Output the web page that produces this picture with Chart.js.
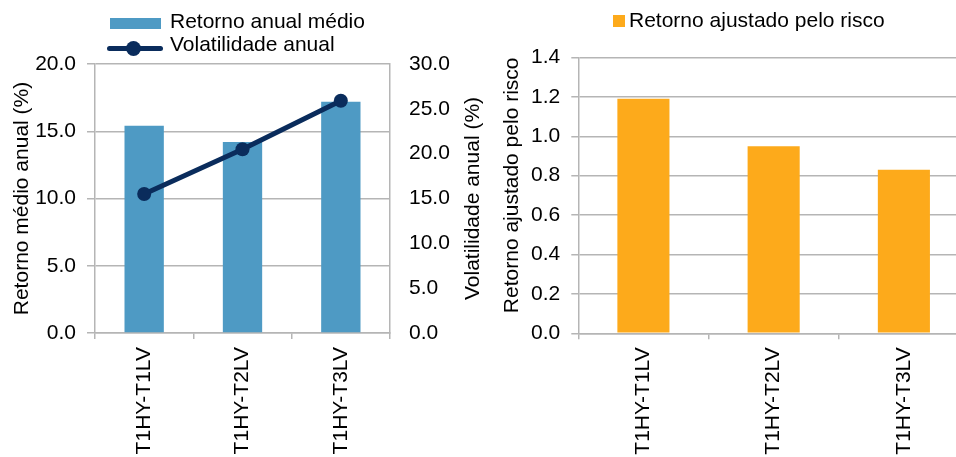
<!DOCTYPE html>
<html>
<head>
<meta charset="utf-8">
<script src="https://cdn.jsdelivr.net/npm/chart.js@4"></script>
<style>
  html, body { margin: 0; padding: 0; width: 956px; height: 457px; overflow: hidden; background: #fff; }
  body { position: relative; font-family: 'Liberation Sans', Arial, sans-serif; }
  canvas { position: absolute; top: 0; }
  #cLeft { left: 0; }
  #cRight { left: 490px; }
  .lg { position: absolute; font-size: 21px; line-height: 21px; color: #000; white-space: nowrap; }
  .sw { position: absolute; }
</style>
</head>
<body>
<canvas id="cLeft" width="490" height="457"></canvas>
<canvas id="cRight" width="480" height="457"></canvas>

<!-- legend, left chart -->
<div class="sw" style="left:110px;top:18px;width:51px;height:11px;background:#4E9AC4"></div>
<div class="lg" style="left:170px;top:10px">Retorno anual médio</div>
<div class="sw" style="left:107px;top:46px;width:56px;height:5px;border-radius:3px;background:#0A2C5C"></div>
<div class="sw" style="left:126px;top:41px;width:15px;height:15px;border-radius:50%;background:#0A2C5C"></div>
<div class="lg" style="left:170px;top:33px">Volatilidade anual</div>

<!-- legend, right chart -->
<div class="sw" style="left:613px;top:15px;width:12px;height:12px;background:#FDAA1B"></div>
<div class="lg" style="left:629px;top:9px">Retorno ajustado pelo risco</div>

<script>
// Portfolio labels
const categories = ['T1HY-T1LV', 'T1HY-T2LV', 'T1HY-T3LV'];
// Average annual return (%), left axis
const retornoMedio = [15.4, 14.2, 17.2];
// Annual volatility (%), right axis
const volatilidade = [15.5, 20.5, 25.9];
// Risk-adjusted return
const retornoAjustado = [1.19, 0.95, 0.83];

const FONT = { family: "'Liberation Sans', Arial, sans-serif", size: 21 };
const GRID = '#b5b5b5';
const BLUE = '#4E9AC4';
const NAVY = '#0A2C5C';
const ORANGE = '#FDAA1B';

Chart.defaults.font = FONT;
Chart.defaults.color = '#000';

const oneDecimal = v => Number(v).toFixed(1);

// Title for the right-hand axis, reading bottom to top
const rightAxisTitle = {
  id: 'rightAxisTitle',
  afterDraw(chart) {
    const s = chart.scales.y1;
    const ctx = chart.ctx;
    ctx.save();
    ctx.font = `${FONT.size}px ${FONT.family}`;
    ctx.fillStyle = '#000';
    ctx.translate(s.right - 17, (s.top + s.bottom) / 2);
    ctx.rotate(-Math.PI / 2);
    ctx.textAlign = 'center';
    ctx.textBaseline = 'middle';
    ctx.fillText('Volatilidade anual (%)', 0, 0);
    ctx.restore();
  }
};

const xAxis = (height) => ({
  grid: { offset: true, drawOnChartArea: false, tickLength: 6, color: GRID, lineWidth: 1.5 },
  border: { color: GRID, width: 1.5 },
  ticks: { maxRotation: 90, minRotation: 90, padding: 8, autoSkip: false, color: '#000' },
  afterFit(s) { s.height = height; }
});

new Chart(document.getElementById('cLeft'), {
  data: {
    labels: categories,
    datasets: [
      {
        type: 'line',
        label: 'Volatilidade anual',
        data: volatilidade,
        yAxisID: 'y1',
        borderColor: NAVY,
        backgroundColor: NAVY,
        borderWidth: 5,
        pointRadius: 7,
        pointBackgroundColor: NAVY,
        pointBorderWidth: 0,
        tension: 0,
        order: 0
      },
      {
        type: 'bar',
        label: 'Retorno anual médio',
        data: retornoMedio,
        yAxisID: 'y',
        backgroundColor: BLUE,
        categoryPercentage: 1,
        barPercentage: 0.4,
        order: 1
      }
    ]
  },
  options: {
    responsive: false,
    devicePixelRatio: 1,
    animation: false,
    layout: { padding: { top: 64, left: 0, right: 0, bottom: 0 } },
    plugins: { legend: { display: false }, tooltip: { enabled: false } },
    scales: {
      x: xAxis(124),
      y: {
        position: 'left',
        min: 0, max: 20,
        ticks: { stepSize: 5, callback: oneDecimal, padding: 11, color: '#000' },
        grid: { color: GRID, lineWidth: 1.5, tickLength: 8 },
        border: { color: GRID, width: 1.5 },
        title: { display: true, text: 'Retorno médio anual (%)', color: '#000', padding: { top: 10, bottom: 0 } },
        afterFit(s) { s.width = 95; }
      },
      y1: {
        position: 'right',
        min: 0, max: 30,
        ticks: { stepSize: 5, callback: oneDecimal, padding: 19, color: '#000' },
        grid: { drawOnChartArea: false, drawTicks: false, color: GRID },
        border: { color: GRID, width: 1.5 },
        afterFit(s) { s.width = 100; }
      }
    }
  },
  plugins: [rightAxisTitle]
});

new Chart(document.getElementById('cRight'), {
  type: 'bar',
  data: {
    labels: categories,
    datasets: [{
      label: 'Retorno ajustado pelo risco',
      data: retornoAjustado,
      backgroundColor: ORANGE,
      categoryPercentage: 1,
      barPercentage: 0.4
    }]
  },
  options: {
    responsive: false,
    devicePixelRatio: 1,
    animation: false,
    layout: { padding: { top: 57.5, left: 0, right: 1, bottom: 0 } },
    plugins: { legend: { display: false }, tooltip: { enabled: false } },
    scales: {
      x: xAxis(123.7),
      y: {
        min: 0, max: 1.4,
        ticks: { stepSize: 0.2, callback: oneDecimal, padding: 11, color: '#000' },
        grid: { color: GRID, lineWidth: 1.5, tickLength: 7 },
        border: { color: GRID, width: 1.5 },
        title: { display: true, text: 'Retorno ajustado pelo risco', align: 'end', color: '#000', padding: { top: 9.5, bottom: 0 } },
        afterFit(s) { s.width = 88.3; }
      }
    }
  }
});
</script>
</body>
</html>
